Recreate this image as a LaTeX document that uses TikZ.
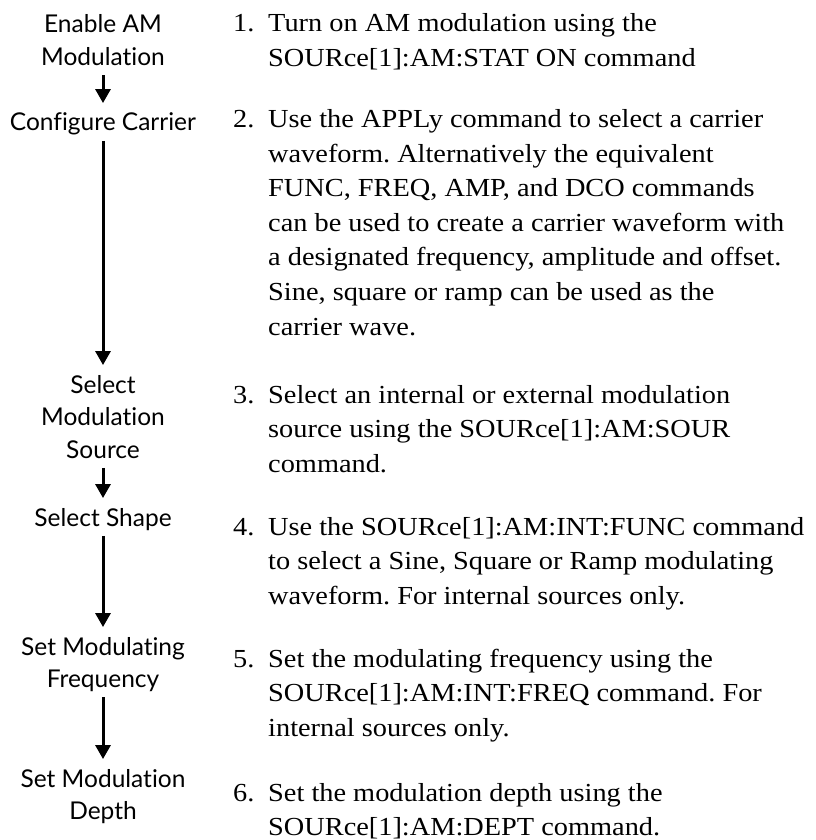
\documentclass[tikz,border=0pt]{standalone}
\usepackage{fontspec}
\setmainfont[FakeStretch=1.09]{Liberation Serif}
\newfontfamily\labelfont[Ligatures={NoCommon}]{Lato}
\usetikzlibrary{arrows.meta}
\frenchspacing
\begin{document}
\begin{tikzpicture}[x=1pt,y=-1pt,
  lbl/.style={anchor=base,inner sep=0pt,font=\labelfont\fontsize{24.5}{32.5}\selectfont},
  stepnode/.style={anchor=base west,inner sep=0pt,font=\fontsize{26}{34.5}\selectfont},
  flowarrow/.style={line width=3pt,-{Triangle[width=15pt,length=14pt]},shorten >=5pt}]
\useasboundingbox (0,0) rectangle (815,840);
% left column
\node[lbl] (n1) at (103,33) {\begin{tabular}[t]{@{}c@{}}Enable AM\\Modulation\end{tabular}};
\node[lbl] (n2) at (103,131) {\begin{tabular}[t]{@{}c@{}}Configure Carrier\end{tabular}};
\node[lbl] (n3) at (103,393) {\begin{tabular}[t]{@{}c@{}}Select\\Modulation\\Source\end{tabular}};
\node[lbl] (n4) at (103,526) {\begin{tabular}[t]{@{}c@{}}Select Shape\end{tabular}};
\node[lbl] (n5) at (103,655) {\begin{tabular}[t]{@{}c@{}}Set Modulating\\Frequency\end{tabular}};
\node[lbl] (n6) at (103,787) {\begin{tabular}[t]{@{}c@{}}Set Modulation\\Depth\end{tabular}};
\draw[flowarrow] (n1.south) -- (n2.north);
\draw[flowarrow] (n2.south) -- (n3.north);
\draw[flowarrow] (n3.south) -- (n4.north);
\draw[flowarrow] (n4.south) -- (n5.north);
\draw[flowarrow] (n5.south) -- (n6.north);
% right column
\node[stepnode] (s1) at (233,32) {\begin{tabular}[t]{@{}l@{}l@{}}
\makebox[35pt][l]{1.}&Turn on AM modulation using the\\
&SOURce[1]:AM:STAT ON command\end{tabular}};
\node[stepnode] (s2) at (233,128) {\begin{tabular}[t]{@{}l@{}l@{}}
\makebox[35pt][l]{2.}&Use the APPLy command to select a carrier\\
&waveform. Alternatively the equivalent\\
&FUNC, FREQ, AMP, and DCO commands\\
&can be used to create a carrier waveform with\\
&a designated frequency, amplitude and offset.\\
&Sine, square or ramp can be used as the\\
&carrier wave.\end{tabular}};
\node[stepnode] (s3) at (233,403) {\begin{tabular}[t]{@{}l@{}l@{}}
\makebox[35pt][l]{3.}&Select an internal or external modulation\\
&source using the SOURce[1]:AM:SOUR\\
&command.\end{tabular}};
\node[stepnode] (s4) at (233,535) {\begin{tabular}[t]{@{}l@{}l@{}}
\makebox[35pt][l]{4.}&Use the SOURce[1]:AM:INT:FUNC command\\
&to select a Sine, Square or Ramp modulating\\
&waveform. For internal sources only.\end{tabular}};
\node[stepnode] (s5) at (233,667) {\begin{tabular}[t]{@{}l@{}l@{}}
\makebox[35pt][l]{5.}&Set the modulating frequency using the\\
&SOURce[1]:AM:INT:FREQ command. For\\
&internal sources only.\end{tabular}};
\node[stepnode] (s6) at (233,801) {\begin{tabular}[t]{@{}l@{}l@{}}
\makebox[35pt][l]{6.}&Set the modulation depth using the\\
&SOURce[1]:AM:DEPT command.\end{tabular}};
\end{tikzpicture}
\end{document}
